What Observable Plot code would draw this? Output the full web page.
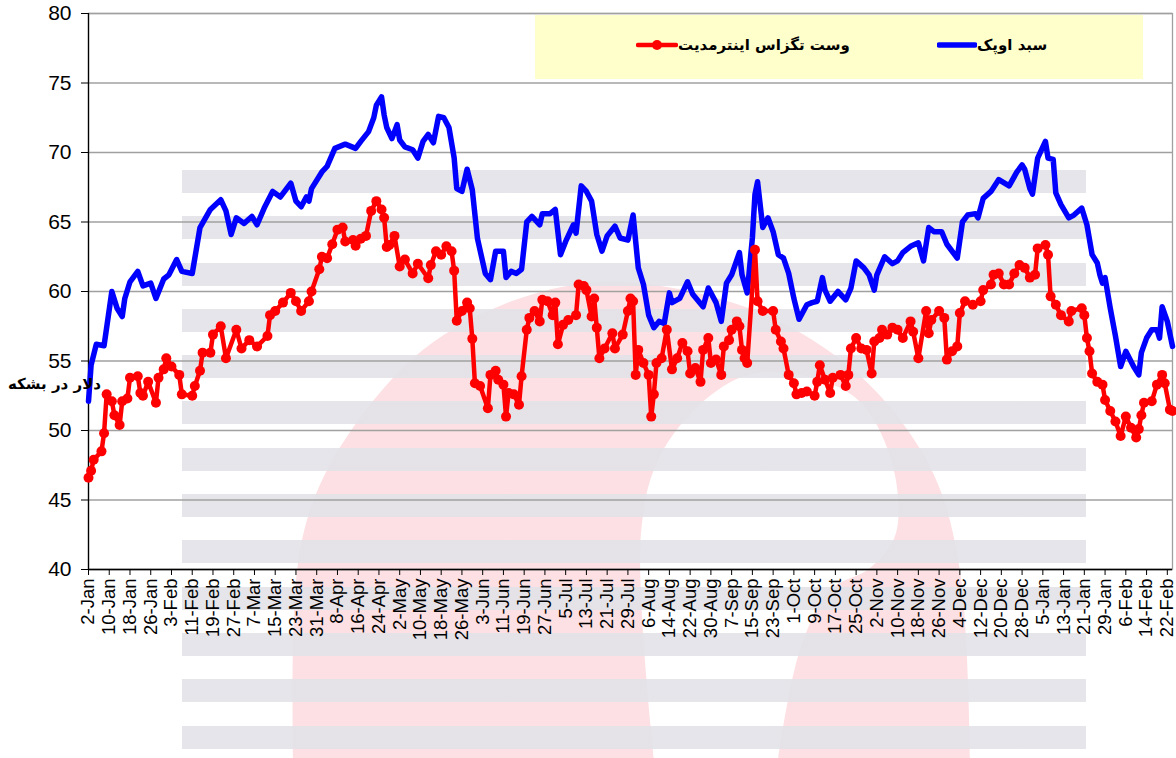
<!DOCTYPE html>
<html>
<head>
<meta charset="utf-8">
<script src="https://cdn.jsdelivr.net/npm/d3@7"></script>
<script src="https://cdn.jsdelivr.net/npm/@observablehq/plot@0.6"></script>
<style>
  html, body { margin: 0; padding: 0; background: #fff; }
  #wrap { position: relative; width: 1176px; height: 758px; overflow: hidden; }
  #wm { position: absolute; left: 0; top: 0; }
  #stripes { position: absolute; left: 182px; top: 170px; width: 904px; height: 580px;
    background: repeating-linear-gradient(to bottom, rgba(226,226,232,0.9) 0px, rgba(226,226,232,0.9) 23px, transparent 23px, transparent 46.3px); }
  #chart { position: absolute; left: 0; top: 0; }
  #legend { position: absolute; left: 535px; top: 15px; width: 608px; height: 64px; background: #ffffcc; }
  .entry { position: absolute; top: 21px; display: flex; align-items: center; direction: ltr; }
  .entry span { font-family: Tahoma, "DejaVu Sans", sans-serif; font-weight: bold; font-size: 15px; color: #000; direction: rtl; white-space: nowrap; }
  #ylab { position: absolute; left: 8px; top: 375px; font-family: Tahoma, "DejaVu Sans", sans-serif; font-weight: bold; font-size: 15px; color: #000; direction: rtl; white-space: nowrap; }
</style>
</head>
<body>
<div id="wrap">
  <svg id="wm" width="1176" height="758"></svg>
  <div id="stripes"></div>
  <div id="chart"></div>
  <div id="legend">
    <div class="entry" id="e1" style="left:101px"><svg width="42" height="12"><line x1="2" y1="6" x2="40" y2="6" stroke="#ff0000" stroke-width="4.5" stroke-linecap="round"/><circle cx="21" cy="6" r="5" fill="#ff0000"/></svg><span>وست تگزاس اینترمدیت</span></div>
    <div class="entry" id="e2" style="left:402px"><svg width="40" height="12"><line x1="2" y1="6" x2="38" y2="6" stroke="#0000ff" stroke-width="5.5" stroke-linecap="round"/></svg><span>سبد اوپک</span></div>
  </div>
  <div id="ylab">دلار در بشکه</div>
</div>
<script>
// ---- data (day offsets counted from 2-Jan-2019) ----
const START_YEAR = 2019, START_MONTH = 0, START_DAY = 2;
const opecDays = [0,1,3,6,9,11,13,14,16,19,21,24,26,29,31,34,36,40,43,47,51,53,55,57,60,63,65,68,71,74,78,80,82,84,85,86,90,92,95,99,103,105,108,110,111,113,114,115,117,119,120,122,125,127,129,131,133,135,137,139,141,142,144,146,148,150,153,155,157,160,161,163,165,167,169,171,174,175,178,180,182,184,187,188,190,192,194,196,198,200,203,205,208,210,212,214,216,218,220,222,224,225,228,231,233,237,239,242,244,246,248,251,252,254,256,257,258,260,262,264,266,268,270,272,274,277,279,281,283,284,286,289,292,294,296,299,301,303,304,307,310,312,314,317,320,322,324,326,329,331,335,337,339,342,343,345,348,351,355,358,360,361,363,364,366,369,370,372,373,375,378,380,383,385,387,389,390,391,392,394,396,398,400,403,405,406,408,410,412,413,414,416,418];
const opecValues = [52.1,54.7,56.2,56.1,60.0,58.8,58.2,59.5,60.7,61.45,60.4,60.6,59.5,60.9,61.2,62.3,61.45,61.3,64.6,65.9,66.6,65.8,64.1,65.3,64.9,65.4,64.8,66.1,67.2,66.8,67.8,66.5,66.1,66.8,66.5,67.4,68.6,69.0,70.3,70.6,70.3,70.8,71.5,72.5,73.4,74.0,72.7,71.8,71.0,72.0,70.9,70.4,70.2,69.6,70.8,71.3,70.7,72.6,72.5,71.8,69.6,67.4,67.2,68.8,67.3,63.8,61.3,60.85,62.9,62.9,61.0,61.45,61.3,61.6,65.0,65.4,64.8,65.6,65.6,65.9,62.65,63.6,64.8,64.2,67.6,67.2,66.5,64.1,62.9,64.0,64.7,63.85,63.7,65.5,61.7,60.5,58.3,57.4,57.85,57.7,59.9,59.2,59.5,60.7,59.8,58.9,60.25,59.2,57.85,60.6,61.2,62.8,61.2,59.9,63.85,67.0,67.9,64.6,65.3,64.3,62.65,62.4,61.3,59.5,58.0,59.05,59.2,59.3,61.0,60.1,59.3,60.0,59.4,60.25,62.2,61.7,61.2,60.1,61.2,62.5,62.0,62.2,62.8,63.25,63.5,62.2,64.6,64.3,64.3,63.4,62.4,65.0,65.5,65.6,65.3,66.7,67.2,68.05,67.6,68.6,69.1,68.8,67.4,67.0,69.6,70.8,69.6,69.5,67.1,66.25,65.3,65.5,66.0,64.8,62.65,62.05,61.2,60.6,61.0,58.8,56.8,54.6,55.7,54.6,54.0,55.6,56.65,57.25,57.25,56.65,58.9,57.85,56.05];
const wtiDays = [0,1,2,5,6,7,9,10,12,13,15,16,19,20,21,23,26,27,29,30,32,35,36,40,41,43,44,47,48,51,53,57,59,62,65,69,70,72,75,78,80,82,85,86,89,90,92,94,96,98,99,102,103,105,107,109,111,113,114,115,116,118,120,122,125,127,131,132,134,136,138,140,141,142,144,146,147,148,149,151,154,155,157,158,160,161,162,164,166,167,169,170,172,174,175,177,179,180,181,183,185,188,189,191,192,194,195,196,197,199,202,203,206,208,209,210,211,212,214,216,217,218,219,221,223,225,227,229,231,232,234,236,237,239,240,242,244,245,247,248,250,251,252,253,254,257,258,260,264,265,267,268,270,272,273,275,277,280,281,282,284,286,287,290,292,293,294,296,298,300,302,303,305,306,308,310,312,314,317,318,320,323,324,325,328,330,331,333,335,336,338,341,344,345,348,349,351,353,355,357,359,361,363,365,366,369,370,371,373,375,378,379,383,384,385,386,387,389,391,392,394,396,398,400,402,404,405,406,407,410,412,414,415,417,418];
const wtiValues = [46.6,47.1,47.9,48.5,49.8,52.6,52.1,51.1,50.4,52.1,52.3,53.8,53.9,52.7,52.5,53.5,52.0,53.8,54.4,55.2,54.6,54.0,52.6,52.5,53.2,54.3,55.6,55.6,56.9,57.5,55.2,57.25,55.9,56.5,56.05,56.8,58.3,58.6,59.2,59.9,59.3,58.6,59.3,60.0,61.6,62.5,62.4,63.4,64.45,64.6,63.6,63.7,63.3,63.8,64.0,65.8,66.5,65.9,65.3,63.2,63.35,64.0,61.8,62.3,61.3,62.0,60.95,61.9,62.9,62.65,63.25,62.9,61.5,57.9,58.6,59.2,58.8,56.6,53.4,53.2,51.6,54.0,54.3,53.65,53.3,51.0,52.7,52.6,51.85,53.9,57.25,58.1,58.6,57.85,59.4,59.3,58.3,59.2,56.2,57.6,57.95,58.3,60.5,60.4,60.1,58.2,59.5,57.4,55.2,55.9,57.0,55.9,56.9,58.6,59.5,59.3,54.0,55.8,54.85,54.0,51.0,52.6,54.85,55.2,57.25,54.4,55.2,56.3,55.7,54.1,54.5,53.5,55.8,56.65,54.85,55.1,54.0,56.05,56.5,57.25,57.85,57.5,55.8,55.2,54.85,63.0,59.3,58.6,58.6,57.25,56.4,55.9,54.0,53.4,52.6,52.7,52.8,52.5,53.5,54.7,53.65,52.7,53.8,54.0,53.2,54.0,55.9,56.65,55.9,55.8,54.1,56.4,56.65,57.25,56.9,57.4,57.25,56.65,57.85,57.1,55.2,58.6,57.0,57.95,58.6,58.1,55.1,55.7,56.05,58.45,59.3,59.05,59.3,60.1,60.5,61.2,61.3,60.5,60.5,61.3,61.9,61.7,61.0,61.2,63.1,63.35,62.65,59.65,59.05,58.3,57.85,58.6,58.8,58.3,56.65,55.7,54.1,53.5,53.3,52.2,51.4,50.65,49.6,51.0,50.2,49.5,50.1,51.1,52.0,52.1,53.3,54.0,53.4,51.5,51.4];
const yTickValues = [40,45,50,55,60,65,70,75,80];
const X_TICK_STEP_DAYS = 8;
const LAST_TICK_DAY = 416;
const LAST_DOMAIN_DAY = 418;

const toDate = d => new Date(Date.UTC(START_YEAR, START_MONTH, START_DAY + d));
const opec = opecDays.map((d, i) => ({date: toDate(d), value: opecValues[i]}));
const wti = wtiDays.map((d, i) => ({date: toDate(d), value: wtiValues[i]}));
const xTicks = d3.range(0, LAST_TICK_DAY + 1, X_TICK_STEP_DAYS).map(toDate);

// ---- background watermark (decorative) ----
(function () {
  const outer = [[293,760],[297,571],[316,494],[360,418],[424,349],[507,303],[596,282],[673,288],[756,311],[826,349],[883,399],[934,475],[960,571],[970,760]];
  const inner = [[654,760],[641,533],[660,456],[711,395],[762,372],[852,395],[890,456],[896,533],[870,568],[830,590],[800,650],[778,760]];
  const line = d3.line().curve(d3.curveCatmullRom);
  d3.select("#wm").append("path").attr("d", line(outer) + "Z" + line(inner) + "Z")
    .attr("fill", "#fde0e3").attr("fill-rule", "evenodd");
})();

const chart = Plot.plot({
  width: 1176,
  height: 758,
  marginLeft: 88,
  marginRight: 4,
  marginTop: 13,
  marginBottom: 189,
  style: {background: "transparent", fontFamily: "'Liberation Sans', Arial, sans-serif", color: "#000", overflow: "visible"},
  x: {type: "utc", domain: [toDate(0), toDate(LAST_DOMAIN_DAY)]},
  y: {domain: [40, 80]},
  marks: [
    Plot.gridY(yTickValues, {stroke: "#a0a0a0", strokeOpacity: 1, strokeWidth: 1.3}),
    Plot.frame({stroke: "#a0a0a0", strokeWidth: 1.3}),
    Plot.axisY(yTickValues, {tickSize: 7, tickPadding: 10, fontSize: 21, label: null, stroke: "#000"}),
    Plot.axisX(xTicks, {tickRotate: -90, tickSize: 6, tickPadding: 3, fontSize: 18.5, tickFormat: d3.utcFormat("%-d-%b"), label: null, stroke: "#000"}),
    Plot.ruleX([toDate(0)], {stroke: "#000", strokeWidth: 1.3}),
    Plot.ruleY([40], {stroke: "#000", strokeWidth: 1.3}),
    Plot.lineY(opec, {x: "date", y: "value", stroke: "#0000ff", strokeWidth: 5.5}),
    Plot.lineY(wti, {x: "date", y: "value", stroke: "#ff0000", strokeWidth: 4.5}),
    Plot.dot(wti, {x: "date", y: "value", r: 5, fill: "#ff0000", stroke: "none"})
  ]
});
document.getElementById("chart").appendChild(chart);
</script>
</body>
</html>
